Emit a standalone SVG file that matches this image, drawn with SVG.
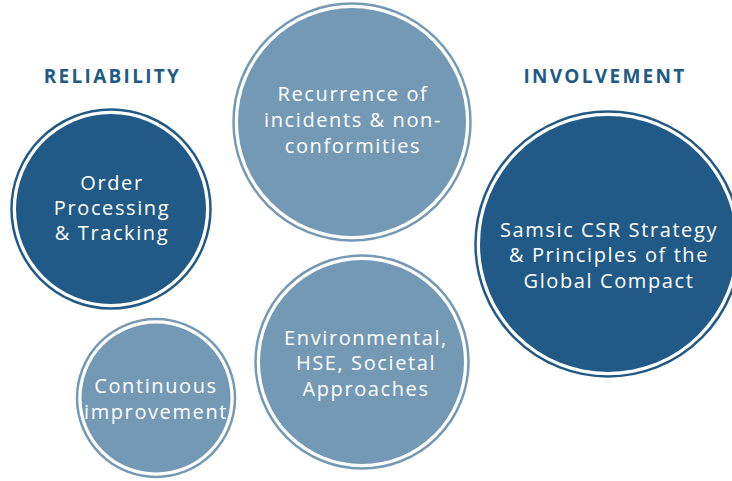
<svg xmlns="http://www.w3.org/2000/svg" width="732" height="481" viewBox="0 0 732 481">
<style>
.dark{fill:#215a86}
.light{fill:#7499b4}
.ringd{fill:none;stroke:#215a86;stroke-width:2.5}
.ringl{fill:none;stroke:#7499b4;stroke-width:2.5}
.lbl{font-family:"Open Sans","Liberation Sans",sans-serif;font-size:20px;letter-spacing:1.6px;fill:#ffffff;text-anchor:middle}
.head{font-family:"Open Sans","Liberation Sans",sans-serif;font-size:19px;font-weight:700;letter-spacing:2.3px;fill:#215a86;text-anchor:middle}
</style>
<rect width="732" height="481" fill="#ffffff"/>
<g id="heading-reliability"><text class="head" x="112.5" y="83">RELIABILITY</text></g>
<g id="heading-involvement"><text class="head" x="605" y="83">INVOLVEMENT</text></g>
<g id="node-recurrence">
<circle class="ringl" cx="352" cy="122" r="118.5"/>
<circle class="light" cx="352" cy="122" r="114"/>
<text class="lbl" x="353" y="101">Recurrence of</text>
<text class="lbl" x="353" y="127">incidents &amp; non-</text>
<text class="lbl" x="353" y="153">conformities</text>
</g>
<g id="node-order">
<circle class="ringd" cx="111" cy="209" r="99.5"/>
<circle class="dark" cx="111" cy="209" r="95"/>
<text class="lbl" x="112" y="190">Order</text>
<text class="lbl" x="112" y="215">Processing</text>
<text class="lbl" x="112" y="240">&amp; Tracking</text>
</g>
<g id="node-samsic">
<circle class="ringd" cx="608" cy="244" r="132.5"/>
<circle class="dark" cx="608" cy="244" r="128"/>
<text class="lbl" x="609" y="237">Samsic CSR Strategy</text>
<text class="lbl" x="609" y="262">&amp; Principles of the</text>
<text class="lbl" x="609" y="288">Global Compact</text>
</g>
<g id="node-environmental">
<circle class="ringl" cx="362" cy="362" r="106.5"/>
<circle class="light" cx="362" cy="362" r="102"/>
<text class="lbl" x="366" y="345">Environmental,</text>
<text class="lbl" x="366" y="370">HSE, Societal</text>
<text class="lbl" x="366" y="396">Approaches</text>
</g>
<g id="node-continuous">
<circle class="ringl" cx="156" cy="398" r="79"/>
<circle class="light" cx="156" cy="398" r="74.5"/>
<text class="lbl" x="156" y="393">Continuous</text>
<text class="lbl" x="156" y="419">improvement</text>
</g>
<g id="connectors"/>
</svg>
